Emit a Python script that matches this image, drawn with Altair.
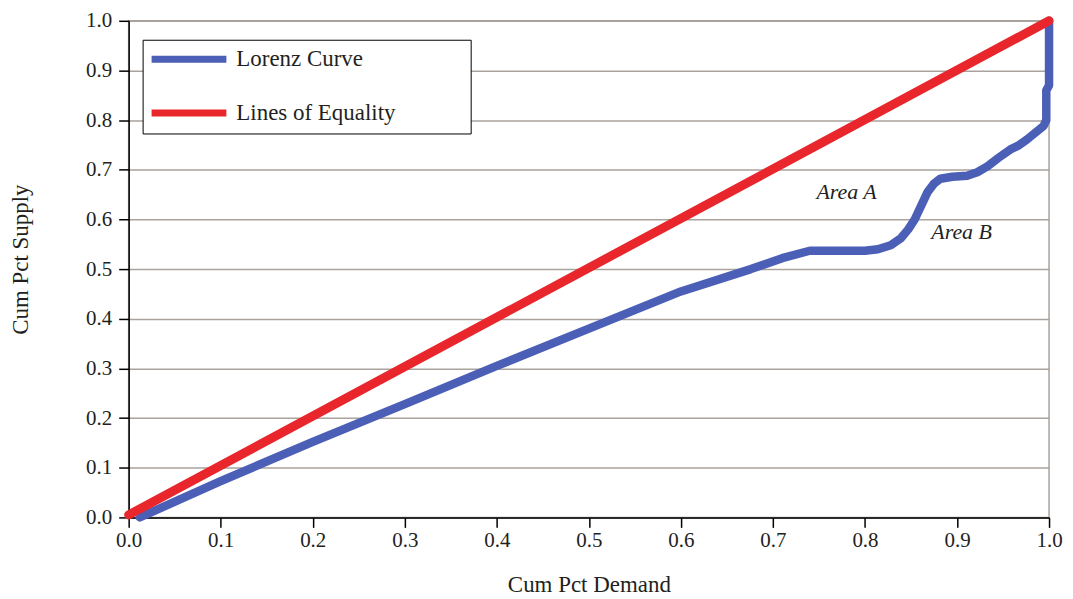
import altair as alt
import pandas as pd

# ---- data ----
series_names = ["Lorenz Curve", "Lines of Equality"]
series_colors = ["#4b5fb6", "#e8262b"]

lorenz_x = [0.012, 0.1, 0.2, 0.3, 0.4, 0.5, 0.6, 0.676, 0.71, 0.74,
            0.8, 0.814, 0.828, 0.839, 0.847, 0.854, 0.868, 0.875, 0.882, 0.895, 0.911,
            0.922, 0.933, 0.945, 0.958, 0.966, 0.976, 0.994, 0.997, 0.997, 1.0, 1.0]
lorenz_y = [0.0, 0.073, 0.152, 0.228, 0.305, 0.38, 0.455, 0.5, 0.522, 0.537,
            0.537, 0.54, 0.548, 0.562, 0.58, 0.6, 0.655, 0.672, 0.682, 0.686, 0.688,
            0.695, 0.707, 0.724, 0.741, 0.748, 0.761, 0.788, 0.8, 0.86, 0.87, 1.0]

equality_x = [0.0, 1.0]
equality_y = [0.005, 1.0]

note_text = ["Area A", "Area B"]
note_x = [0.78, 0.905]
note_y = [0.656, 0.575]

tick_values = [0.0, 0.1, 0.2, 0.3, 0.4, 0.5, 0.6, 0.7, 0.8, 0.9, 1.0]

# ---- tables ----
lor = pd.DataFrame({"x": lorenz_x, "y": lorenz_y, "series": series_names[0],
                    "idx": list(range(len(lorenz_x)))})
eq = pd.DataFrame({"x": equality_x, "y": equality_y, "series": series_names[1],
                   "idx": list(range(len(equality_x)))})
notes = pd.DataFrame({"x": note_x, "y": note_y, "text": note_text})

FONT = "Liberation Serif"
TXT = "#231f20"

xs = alt.Scale(domain=[0, 1], nice=False, zero=False)
ys = alt.Scale(domain=[0, 1], nice=False, zero=False)

x_axis = alt.Axis(values=tick_values, format=".1f", title="Cum Pct Demand", grid=False,
                  domainColor="black", domainWidth=1.5, tickColor="black", tickSize=10,
                  tickWidth=1.5, labelFont=FONT, labelFontSize=21, labelColor=TXT,
                  labelPadding=2, titleFont=FONT, titleFontSize=23, titleFontWeight="normal",
                  titleColor=TXT, titlePadding=23, labelFlush=False)
y_axis = alt.Axis(values=tick_values, format=".1f", title="Cum Pct Supply", grid=True,
                  gridColor="#aaa29c", gridWidth=1.5,
                  domainColor="black", domainWidth=1.5, tickColor="black", tickSize=10,
                  tickWidth=1.5, labelFont=FONT, labelFontSize=21, labelColor=TXT,
                  labelPadding=7, titleFont=FONT, titleFontSize=23, titleFontWeight="normal",
                  titleColor=TXT, titleX=-108, titleY=239, titleBaseline="middle",
                  labelFlush=False)

# legend symbol: a 75px stroke, plus an invisible point that widens the legend box
color = alt.Color(
    "series:N",
    scale=alt.Scale(domain=series_names, range=series_colors),
    legend=alt.Legend(
        title=None, orient="none", legendX=14, legendY=19,
        symbolType="M-3.75,0H3.75M26.2,0L26.2,0", symbolSize=400, symbolStrokeWidth=7,
        symbolOffset=27, labelOffset=34,
        labelFont=FONT, labelFontSize=23, labelColor=TXT, labelLimit=600,
        fillColor="white", strokeColor="black", padding=6, rowPadding=25,
    ),
)

base_x = alt.X("x:Q", scale=xs, axis=x_axis)
base_y = alt.Y("y:Q", scale=ys, axis=y_axis)

lor_line = alt.Chart(lor).mark_line(strokeWidth=8.5, strokeJoin="round", strokeCap="round").encode(
    x=base_x, y=base_y, color=color, order="idx:Q")
eq_line = alt.Chart(eq).mark_line(strokeWidth=9, strokeCap="round").encode(
    x=base_x, y=base_y, color=color, order="idx:Q")

note_marks = alt.Chart(notes).mark_text(font=FONT, fontSize=22, fontStyle="italic",
                                        color=TXT, baseline="middle", align="center").encode(
    x=alt.X("x:Q", scale=xs), y=alt.Y("y:Q", scale=ys), text="text:N")

chart = alt.layer(lor_line, eq_line, note_marks).properties(
    width=923, height=498,
    autosize=alt.AutoSizeParams(type="none"),
    padding={"left": 121, "top": 12, "right": 16, "bottom": 80},
    background="white",
).configure_view(stroke="#aaa29c", strokeWidth=1.5)

chart.save("out.html", embed_options={"renderer": "svg", "actions": False})
